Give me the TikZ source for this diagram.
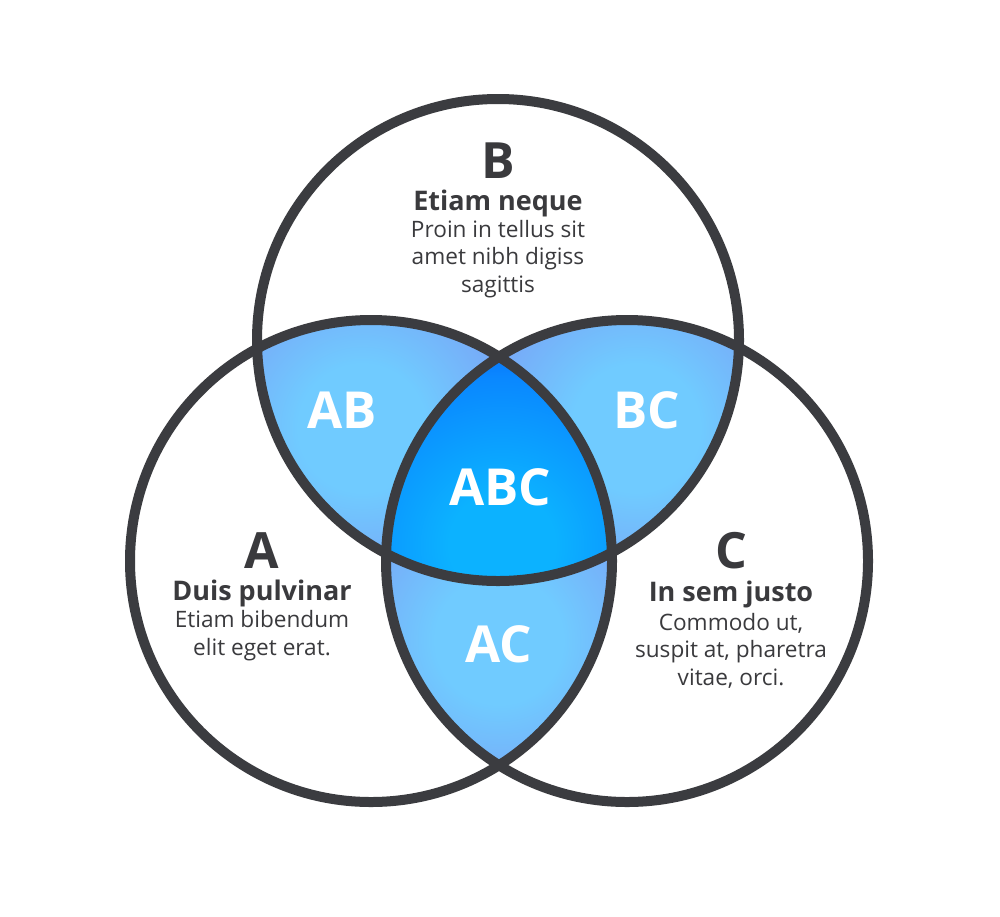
\documentclass[tikz,border=0pt]{standalone}
\usepackage{fontspec}
\setmainfont{Open Sans}
\usepackage{tikz}
\usetikzlibrary{positioning}

\definecolor{ringgray}{HTML}{3B3C40}
\definecolor{textgray}{HTML}{3A3A3D}
\definecolor{lensin}{HTML}{70CBFF}
\definecolor{lensout}{HTML}{8080EE}
\definecolor{corein}{HTML}{0CB2FF}
\definecolor{coremid}{HTML}{0A88FF}
\definecolor{coreout}{HTML}{002CF2}

\pgfdeclareradialshading{lensfill}{\pgfpoint{0bp}{0bp}}{%
	color(0bp)=(lensin); color(10bp)=(lensin); color(40bp)=(lensout); color(50bp)=(lensout)}
\pgfdeclareradialshading{corefill}{\pgfpoint{0bp}{0bp}}{%
	color(0bp)=(corein); color(7bp)=(corein); color(22bp)=(coremid); color(40bp)=(coreout); color(50bp)=(coreout)}

\begin{document}
\begin{tikzpicture}[
		x=0.5pt, y=-0.5pt,
		ring/.style={
			draw=ringgray,
			line width=5pt
		},
		setname/.style={
			anchor=base,
			inner sep=0pt,
			text=textgray,
			font=\bfseries\fontsize{25}{25}\selectfont
		},
		settitle/.style={
			anchor=base,
			inner sep=0pt,
			text=textgray,
			font=\bfseries\fontsize{13.5}{16}\selectfont
		},
		setbody/.style={
			anchor=base,
			inner sep=0pt,
			align=center,
			text=textgray,
			font=\fontsize{11.3}{13.7}\selectfont
		},
		zone/.style={
			anchor=base,
			inner sep=0pt,
			text=white,
			font=\bfseries\fontsize{25.5}{25.5}\selectfont
		}
		]
		\useasboundingbox (0,0) rectangle (1000,916);
		\fill[white] (0,0) rectangle (1000,916);
		% Centres
		\coordinate (A) at (371,561);
		\coordinate (B) at (498,340);
		\coordinate (C) at (627,561);
		\def\rad{241}
		% Pairwise regions
		\begin{scope}
			\clip (A) circle (\rad);
			\clip (B) circle (\rad);
			\shade[shading=lensfill] (362,428) circle (160);
		\end{scope}
		\begin{scope}
			\clip (B) circle (\rad);
			\clip (C) circle (\rad);
			\shade[shading=lensfill] (636,428) circle (160);
		\end{scope}
		\begin{scope}
			\clip (A) circle (\rad);
			\clip (C) circle (\rad);
			\shade[shading=lensfill] (499,640) circle (160);
		\end{scope}
		% Centre region
		\begin{scope}
			\clip (A) circle (\rad);
			\clip (B) circle (\rad);
			\clip (C) circle (\rad);
			\shade[shading=corefill] (502,545) circle (190);
		\end{scope}
		% Circles
		\draw[ring] (A) circle (\rad);
		\draw[ring] (B) circle (\rad);
		\draw[ring] (C) circle (\rad);
		% Set B
		\node[setname] (nameB) at (498,178) {B};
		\node[settitle] (titleB) at (498,210) {Etiam neque};
		\node[setbody] (bodyB) at (498,292)
		{Proin in tellus sit\\amet nibh digiss\\sagittis};
		% Set A
		\node[setname] (nameA) at (262,568) {A};
		\node[settitle] (titleA) at (262,600) {Duis pulvinar};
		\node[setbody] (bodyA) at (262,655)
		{Etiam bibendum\\elit eget erat.};
		% Set C
		\node[setname] (nameC) at (731,568) {C};
		\node[settitle] (titleC) at (731,601) {In sem justo};
		\node[setbody] (bodyC) at (731,685)
		{Commodo ut,\\suspit at, pharetra\\vitae, orci.};
		% Overlaps
		\node[zone] (zoneAB) at (342,428) {AB};
		\node[zone] (zoneBC) at (647,428) {BC};
		\node[zone] (zoneABC) at (500,505) {ABC};
		\node[zone] (zoneAC) at (499,662) {AC};
	\end{tikzpicture}
\end{document}
